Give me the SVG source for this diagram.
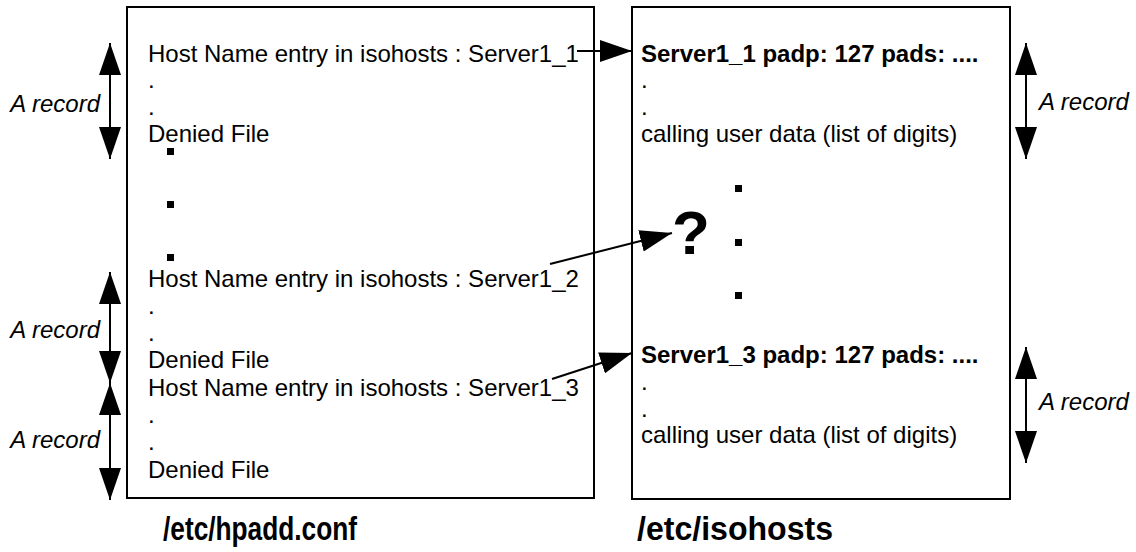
<svg xmlns="http://www.w3.org/2000/svg" width="1136" height="552" viewBox="0 0 1136 552">
<style>
.t{font-family:"Liberation Sans",Arial,Helvetica,sans-serif;font-size:24px;fill:#000}
.b{font-weight:bold}
.i{font-style:italic}
.title{font-family:"Liberation Sans",Arial,Helvetica,sans-serif;font-size:33px;font-weight:bold;fill:#000}
.box{fill:#fff;stroke:#000;stroke-width:2}
.ln{stroke:#000;stroke-width:2;fill:none}
.sq{fill:#000}
</style>
<defs>
<marker id="ah" viewBox="0 0 32 22" refX="32" refY="11" markerWidth="32" markerHeight="22" markerUnits="userSpaceOnUse" orient="auto-start-reverse">
<path d="M0,0 L32,11 L0,22 z" fill="#000"/>
</marker>
</defs>
<rect width="1136" height="552" fill="#fff"/>

<g id="hpadd">
<rect class="box" x="127" y="7" width="467" height="491"/>
<text class="t" x="148" y="62">Host Name entry in isohosts : Server1_1</text>
<text class="t" x="148" y="88">.</text>
<text class="t" x="148" y="115">.</text>
<text class="t" x="148" y="142">Denied File</text>
<rect class="sq" x="167" y="148" width="7" height="7"/>
<rect class="sq" x="167" y="201" width="7" height="7"/>
<rect class="sq" x="167" y="254" width="7" height="7"/>
<text class="t" x="148" y="287">Host Name entry in isohosts : Server1_2</text>
<text class="t" x="148" y="314">.</text>
<text class="t" x="148" y="341">.</text>
<text class="t" x="148" y="368">Denied File</text>
<text class="t" x="148" y="396">Host Name entry in isohosts : Server1_3</text>
<text class="t" x="148" y="423">.</text>
<text class="t" x="148" y="450">.</text>
<text class="t" x="148" y="478">Denied File</text>
<text class="title" x="163" y="540" textLength="194" lengthAdjust="spacingAndGlyphs">/etc/hpadd.conf</text>
</g>

<g id="isohosts">
<rect class="box" x="632" y="7" width="378" height="492"/>
<text class="t b" x="641" y="62">Server1_1 padp: 127 pads: ....</text>
<text class="t" x="641" y="88">.</text>
<text class="t" x="641" y="115">.</text>
<text class="t" x="641" y="142">calling user data (list of digits)</text>
<rect class="sq" x="735" y="185" width="7" height="7"/>
<rect class="sq" x="735" y="239" width="7" height="7"/>
<rect class="sq" x="735" y="292" width="7" height="7"/>
<text class="t" x="672" y="254" style="font-size:62px;font-weight:bold">?</text>
<text class="t b" x="641" y="363">Server1_3 padp: 127 pads: ....</text>
<text class="t" x="641" y="390">.</text>
<text class="t" x="641" y="417">.</text>
<text class="t" x="641" y="443">calling user data (list of digits)</text>
<text class="title" x="637" y="540" textLength="196" lengthAdjust="spacingAndGlyphs">/etc/isohosts</text>
</g>

<g id="record-labels">
<text class="t i" x="100" y="112" text-anchor="end">A record</text>
<text class="t i" x="100" y="338" text-anchor="end">A record</text>
<text class="t i" x="100" y="448" text-anchor="end">A record</text>
<text class="t i" x="1039" y="110">A record</text>
<text class="t i" x="1039" y="410">A record</text>
</g>

<g id="connectors">
<line class="ln" x1="110" y1="43" x2="110" y2="159" marker-start="url(#ah)" marker-end="url(#ah)"/>
<line class="ln" x1="110" y1="272" x2="110" y2="383" marker-start="url(#ah)" marker-end="url(#ah)"/>
<line class="ln" x1="110" y1="383" x2="110" y2="500" marker-start="url(#ah)" marker-end="url(#ah)"/>
<line class="ln" x1="1026" y1="43" x2="1026" y2="159" marker-start="url(#ah)" marker-end="url(#ah)"/>
<line class="ln" x1="1026" y1="347" x2="1026" y2="463" marker-start="url(#ah)" marker-end="url(#ah)"/>
<line class="ln" x1="577" y1="51" x2="632" y2="51" marker-end="url(#ah)"/>
<line class="ln" x1="550" y1="264" x2="672" y2="233" marker-end="url(#ah)"/>
<line class="ln" x1="552" y1="379" x2="632" y2="353" marker-end="url(#ah)"/>
</g>
</svg>
